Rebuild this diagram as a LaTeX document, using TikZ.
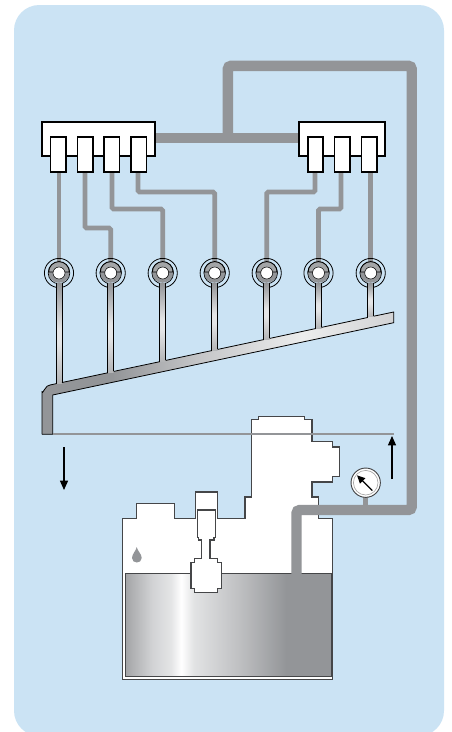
\documentclass[tikz,border=0pt]{standalone}
\usetikzlibrary{arrows.meta}
\definecolor{panelblue}{HTML}{CBE3F4}
\definecolor{pipegray}{HTML}{939598}
\definecolor{edgegray}{HTML}{454648}
\definecolor{railmid}{HTML}{C4C5C7}
\definecolor{raillight}{HTML}{ECEDED}
\definecolor{railend}{HTML}{D2D3D5}
\definecolor{stemlight}{HTML}{E4E5E6}
\definecolor{tanka}{HTML}{A4A5A7}
\definecolor{tankb}{HTML}{D2D3D5}
\definecolor{tankc}{HTML}{E2E3E4}
\definecolor{tankd}{HTML}{BFC0C2}
\pgfdeclarehorizontalshading{railshade}{100bp}{
  color(0bp)=(pipegray); color(25bp)=(pipegray); color(35bp)=(pipegray); color(47bp)=(railmid); color(62bp)=(raillight); color(75bp)=(railend); color(100bp)=(railend)}
\pgfdeclareverticalshading{stemshade}{100bp}{
  color(0bp)=(pipegray!70!white); color(25bp)=(pipegray!70!white); color(45bp)=(stemlight); color(52bp)=(stemlight); color(75bp)=(pipegray); color(100bp)=(pipegray)}
\pgfdeclarehorizontalshading{tankshade}{100bp}{
  color(0bp)=(tanka); color(25bp)=(tanka); color(31.5bp)=(tankb); color(36bp)=(tankb!60!white); color(38.5bp)=(white); color(41.5bp)=(tankc); color(52.5bp)=(tankd); color(64bp)=(pipegray); color(75bp)=(pipegray); color(100bp)=(pipegray)}
\tikzset{
  x=0.75pt,y=-0.75pt,
  thickpipe/.style={draw=pipegray,line width=7.8pt,rounded corners=2.5pt},
  thinpipe/.style={draw=pipegray,line width=3.6pt,rounded corners=1.2pt},
  manifold/.style={draw=black,line width=1.2pt,fill=white},
  plunger/.style={draw=black,line width=1.2pt,fill=white},
  outlinepart/.style={draw=edgegray,line width=0.8pt,fill=white},
  bigarrow/.style={draw=black,line width=1pt,-{Triangle[length=7pt,width=6pt]}},
  fineline/.style={draw=black,line width=0.6pt},
}
\newcommand{\injector}[1]{%
  \begin{scope}[shift={(#1,273)}]
    \fill[pipegray] (-10.8,-1) arc[start angle=180,end angle=0,radius=10.8] -- cycle;
    \draw[fineline] (0,0) circle (14.6);
    \draw[black,line width=0.5pt] (0,0) circle (10.8);
    \draw[black,line width=0.7pt,fill=pipegray!85] (-10.4,-1) -- (10.4,-1) arc[start angle=0,end angle=-180,radius=10.4] -- cycle;
    \draw[black,line width=0.4pt,fill=white] (0,0) circle (6);
  \end{scope}}
\begin{document}
\begin{tikzpicture}
\useasboundingbox (0,0) rectangle (451,732);
\clip (0,0) rectangle (451,732);
\fill[white] (0,0) rectangle (451,732);
\fill[panelblue,rounded corners=19pt] (14,5) rectangle (444,736);

% thin pipes
\coordinate (pa) at (59,172);
\coordinate (pb) at (85,172);
\coordinate (pc) at (112,172);
\coordinate (pd) at (138,172);
\coordinate (pe) at (315,172);
\coordinate (pf) at (341,172);
\coordinate (pg) at (370.7,172);
\draw[thinpipe] (pa) -- (59,268);
\draw[thinpipe] (pb) -- (85,228) -- (110.7,228) -- (110.7,268);
\draw[thinpipe] (pc) -- (112,209) -- (162.7,209) -- (162.7,268);
\draw[thinpipe] (pd) -- (138,192) -- (214.7,192) -- (214.7,268);
\draw[thinpipe] (pe) -- (315,192) -- (266.7,192) -- (266.7,268);
\draw[thinpipe] (pf) -- (341,209) -- (318.5,209) -- (318.5,268);
\draw[thinpipe] (pg) -- (370.7,268);

% rail
\shade[shading=railshade] (42,434.3) -- (42,391.7) to[out=-90,in=167] (50,385) -- (393.7,312) -- (393.7,322.7) -- (52.7,395) -- (52.7,434.3) -- cycle;

% injectors
\foreach \ix in {59,110.7,162.7,214.7,266.7,318.5,370.7}{\injector{\ix}}

% stems
\foreach \sx/\sy in {59/383.1,110.7/372.1,162.7/361,214.7/350,266.7/339,318.5/328,370.7/316.8}{
  \shade[shading=stemshade] (\sx-3,283.2) rectangle (\sx+3,\sy);
  \draw[fineline] (\sx-3,283) -- (\sx-3,\sy+0.7);
  \draw[fineline] (\sx+3,283) -- (\sx+3,\sy-0.7);
}
\draw[fineline] (42,434.3) -- (42,391.7) to[out=-90,in=167] (50,385) -- (56,383.7);
\foreach \ax/\ay/\bx/\by in {62/382.5/107.7/372.8,113.7/371.4/159.7/361.7,165.7/360.4/211.7/350.6,217.7/349.4/263.7/339.6,269.7/338.4/315.5/328.6,321.5/327.4/367.7/317.5}{
  \draw[fineline] (\ax,\ay) -- (\bx,\by);
}
\draw[fineline] (373.7,316.2) -- (393.7,312) -- (393.7,322.7) -- (52.7,395) -- (52.7,434.3) -- (42,434.3);

% pump body
\draw[outlinepart] (122.7,679.3) -- (122.7,518.7) -- (136.7,518.7) -- (136.7,503.3) -- (174.3,503.3) -- (174.3,518.7) -- (195.7,518.7) -- (195.7,492) -- (217.3,492) -- (217.3,518.7) -- (245,518.7) -- (245,497) -- (251.3,497) -- (251.3,419.7) -- (258.3,419.7) -- (258.3,416.3) -- (304.3,416.3) -- (304.3,419.7) -- (312,419.7) -- (312,441.7) -- (332.7,441.7) -- (332.7,447) -- (339.3,447) -- (339.3,476.7) -- (332.7,476.7) -- (332.7,482) -- (312,482) -- (312,497) -- (318.3,497) -- (318.3,518.7) -- (332.7,518.7) -- (332.7,679.3) -- cycle;

% tank
\shade[shading=tankshade] (125.7,573.7) rectangle (331.7,676.7);
\draw[edgegray,line width=0.9pt] (125.7,573.7) rectangle (331.7,676.7);

% valve
\draw[edgegray,line width=0.8pt,fill=white] (197.3,510) -- (215.3,510) -- (215.3,537.3) -- (214,537.3) -- (214,540) -- (210,540) -- (210,558.3) -- (217.7,558.3) -- (217.7,562.7) -- (221.7,562.7) -- (221.7,588.3) -- (217.7,588.3) -- (217.7,592.3) -- (194.3,592.3) -- (194.3,588.3) -- (191,588.3) -- (191,562.7) -- (194.3,562.7) -- (194.3,558.3) -- (201.7,558.3) -- (201.7,540) -- (198.5,540) -- (198.5,537.3) -- (197.3,537.3) -- cycle;

% droplet
\fill[pipegray] (136.7,547) .. controls (137.5,551) and (141.7,554) .. (141.7,558) .. controls (141.7,564) and (132,564) .. (132,558) .. controls (132,554) and (136,551) .. (136.7,547) -- cycle;

% level line
\coordinate (lvlL) at (52.7,433.7);
\coordinate (lvlR) at (394,433.7);
\draw[pipegray,line width=1.3pt] (lvlL) -- (lvlR);

% gauge stem and thick pipe
\draw[pipegray,line width=3.6pt] (365.7,497) -- (365.7,507);
\coordinate (tankin) at (296.5,575);
\coordinate (tee) at (227.8,138);
\draw[thickpipe] (tankin) -- (296.5,510) -- (411.7,510) -- (411.7,65.8) -- (227.8,65.8) -- (tee);

% manifolds
\draw[thickpipe,rounded corners=0pt] (155,138) -- (299,138);
\node[manifold,inner sep=0pt,anchor=north west,minimum height=25.5pt,minimum width=84.75pt,outer sep=0pt] (ml) at (42,122) {};
\node[manifold,inner sep=0pt,anchor=north west,minimum height=25.5pt,minimum width=64.5pt,outer sep=0pt] (mr) at (299,122) {};
\foreach \xa/\xb in {50.5/65.8,77.3/92.7,104/119.3,131/146.3,308/323,334.5/349.7,361.3/376.7}{
  \draw[plunger] (\xa,137) rectangle (\xb,172);
}

% gauge
\node[circle,draw=edgegray,line width=0.7pt,fill=white,inner sep=0pt,minimum size=22pt] (gauge) at (365.7,482.7) {};
\draw[black!35,line width=0.5pt] (gauge.center) circle (12.3);
\draw[black,line width=1pt,-{Triangle[length=6pt,width=5.5pt]}] (372.3,490.5) -- (357,475.3);

% flow arrows
\coordinate (da) at (64,447);
\coordinate (db) at (64,490);
\coordinate (ua) at (392,479);
\coordinate (ub) at (392,436);
\draw[bigarrow] (da) -- (db);
\draw[bigarrow] (ua) -- (ub);
\end{tikzpicture}
\end{document}
